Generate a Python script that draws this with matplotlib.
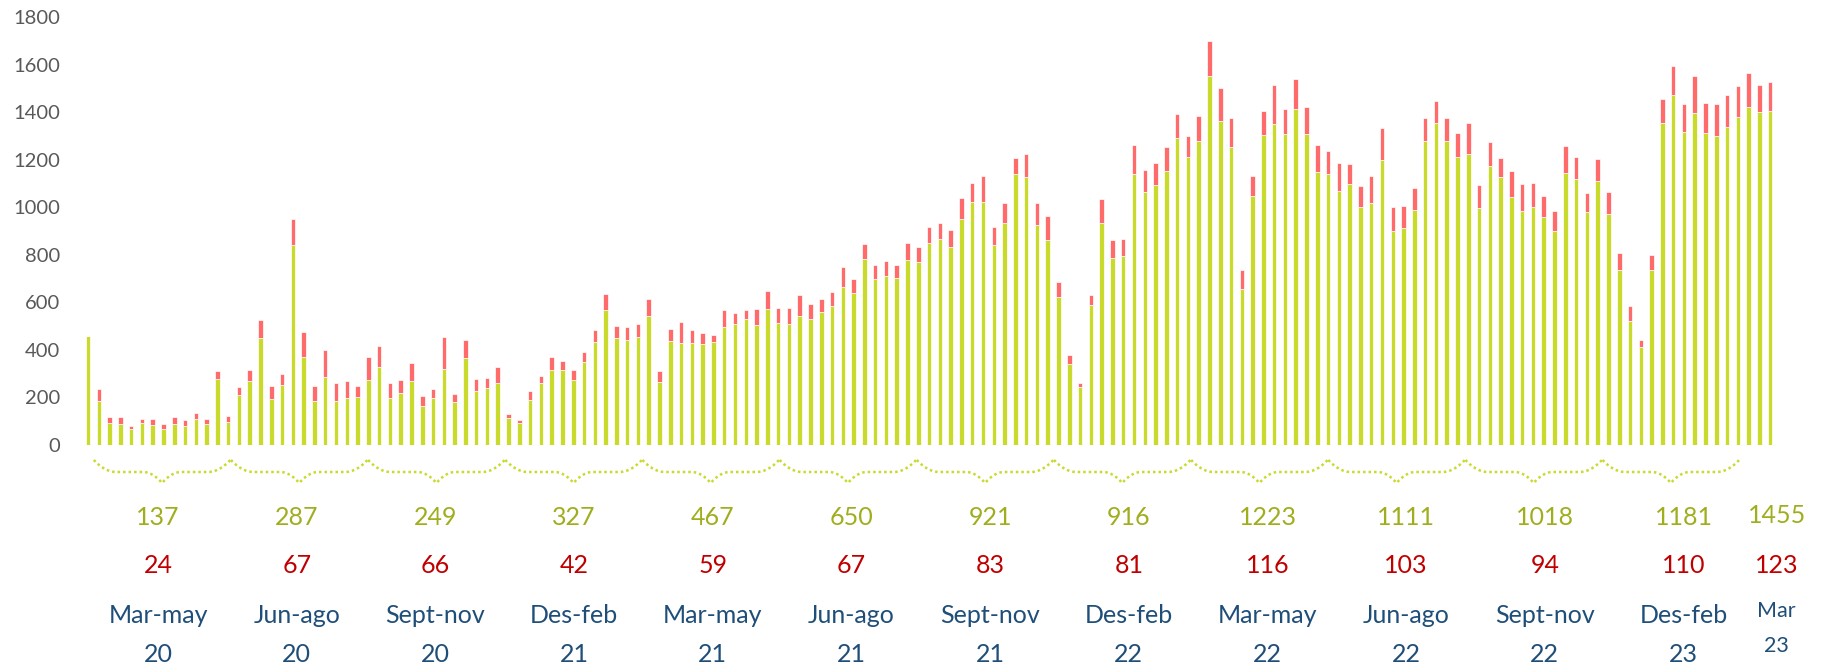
#!/usr/bin/env python3
"""
Weekly counts Mar 2020 - Mar 2023, stacked bars (green + red),
with seasonal averages written under curly braces.

Outputs:
- out.png
"""

import matplotlib.pyplot as plt
import matplotlib.transforms as mtransforms
import numpy as np

# weekly values, green part of each bar
green = [
    460, 185, 94, 88, 67, 93, 84, 67, 90, 81, 109, 90, 278,
    95, 210, 271, 450, 195, 252, 841, 370, 185, 286, 185, 198, 202,
    275, 328, 199, 217, 271, 165, 198, 320, 181, 366, 227, 240, 262,
    114, 93, 191, 261, 315, 315, 273, 348, 435, 568, 449, 442, 454,
    544, 266, 437, 430, 429, 423, 433, 498, 510, 530, 505, 573, 513,
    510, 542, 528, 559, 585, 666, 639, 782, 698, 711, 702, 778, 768,
    849, 866, 833, 950, 1022, 1022, 841, 935, 1140, 1126, 925, 862, 621,
    342, 243, 589, 934, 785, 795, 1140, 1064, 1092, 1152, 1290, 1211, 1278,
    1552, 1361, 1255, 655, 1046, 1302, 1350, 1309, 1413, 1309, 1148, 1141, 1068,
    1096, 999, 1016, 1200, 900, 911, 988, 1278, 1353, 1278, 1211, 1223, 998,
    1175, 1126, 1044, 985, 1002, 959, 898, 1142, 1119, 980, 1110, 970, 737,
    523, 414, 736, 1354, 1472, 1316, 1398, 1312, 1299, 1337, 1379, 1421, 1400,
    1403,
]

# weekly values, red part stacked on top
red = [
    0, 52, 25, 28, 14, 16, 25, 21, 29, 26, 24, 19, 35,
    28, 35, 46, 76, 52, 45, 108, 104, 65, 114, 76, 70, 45,
    94, 90, 60, 56, 72, 42, 37, 133, 35, 76, 51, 42, 67,
    18, 11, 35, 31, 55, 38, 44, 43, 47, 66, 50, 54, 53,
    71, 45, 49, 89, 56, 47, 30, 70, 46, 39, 68, 75, 62,
    67, 87, 66, 54, 58, 83, 59, 63, 59, 64, 55, 73, 63,
    68, 68, 73, 89, 80, 109, 76, 84, 67, 98, 94, 101, 63,
    36, 16, 42, 99, 77, 70, 122, 92, 92, 101, 102, 90, 107,
    147, 139, 119, 82, 85, 104, 165, 103, 126, 111, 114, 95, 116,
    86, 90, 115, 133, 102, 95, 93, 99, 95, 96, 100, 131, 94,
    99, 82, 107, 113, 101, 87, 86, 115, 91, 80, 93, 95, 70,
    60, 28, 62, 100, 123, 117, 154, 125, 135, 133, 132, 143, 114,
    122,
]

seasons = ["Mar-may", "Jun-ago", "Sept-nov", "Des-feb",
           "Mar-may", "Jun-ago", "Sept-nov", "Des-feb",
           "Mar-may", "Jun-ago", "Sept-nov", "Des-feb"]
years = ["20", "20", "20", "21", "21", "21", "21", "22", "22", "22", "22", "23"]
green_avg = [137, 287, 249, 327, 467, 650, 921, 916, 1223, 1111, 1018, 1181]
red_avg = [24, 67, 66, 42, 59, 67, 83, 81, 116, 103, 94, 110]

last_season = "Mar"
last_year = "23"
last_green_avg = 1455
last_red_avg = 123

yticks = list(range(0, 1801, 200))

BAR_GREEN = "#C9DA2C"
BAR_RED = "#FF6B6B"
TXT_GREEN = "#A0AE1E"
TXT_RED = "#C00000"
TXT_BLUE = "#1F4E79"
FONT = ["Lato", "DejaVu Sans"]

W, H = 1825, 663


def fy(px):
    # pixel row from top -> figure fraction
    return 1 - px / H


def brace(ax, tr, center, half):
    t = np.linspace(0, 1, 60)
    y = np.where(t < 0.33, 460 + 12 * (1 - (1 - t / 0.33) ** 2),
                 np.where(t < 0.72, 472, 472 + 11 * ((t - 0.72) / 0.28) ** 2))
    xs = np.concatenate([center - half + t * half, center + half - t[::-1] * half])
    ys = np.concatenate([y, y[::-1]])
    ax.plot(xs, [fy(v) for v in ys], transform=tr, color=BAR_GREEN,
            lw=1.8, linestyle=(0, (1, 1.2)), dash_capstyle="butt",
            clip_on=False)


def plot(out_path):
    n = len(green)
    x = np.arange(n)
    fig = plt.figure(figsize=(W / 100, H / 100), dpi=100)
    left = 82.6 / W
    ax = fig.add_axes([left, fy(445), 1693 / W, 428 / H])

    ax.bar(x, green, width=0.42, color=BAR_GREEN, edgecolor="white", linewidth=0.5)
    ax.bar(x, red, bottom=green, width=0.42, color=BAR_RED, edgecolor="white", linewidth=0.5)

    ax.set_xlim(-0.5, n - 0.5)
    ax.set_ylim(0, 1800)
    ax.set_yticks(yticks)
    ax.set_yticklabels([str(v) for v in yticks], fontfamily=FONT, fontsize=14.5, color="#595959")
    ax.tick_params(axis="y", length=0, pad=16)
    ax.set_xticks([])
    for s in ax.spines.values():
        s.set_visible(False)

    tr = mtransforms.blended_transform_factory(ax.transData, fig.transFigure)

    for k in range(len(seasons)):
        brace(ax, tr, 6.87 + 12.72 * k, 6.33)
        cx = 6.5 + 12.86 * k
        kw = dict(transform=tr, ha="center", va="baseline", fontfamily=FONT, fontsize=18)
        ax.text(cx, fy(525), str(green_avg[k]), color=TXT_GREEN, **kw)
        ax.text(cx, fy(573), str(red_avg[k]), color=TXT_RED, **kw)
        ax.text(cx, fy(623), seasons[k], color=TXT_BLUE, **kw)
        ax.text(cx, fy(662), years[k], color=TXT_BLUE, **kw)

    cx = n - 0.4
    kw = dict(transform=tr, ha="center", va="baseline", fontfamily=FONT)
    ax.text(cx, fy(523), str(last_green_avg), color=TXT_GREEN, fontsize=18, **kw)
    ax.text(cx, fy(573), str(last_red_avg), color=TXT_RED, fontsize=18, **kw)
    ax.text(cx, fy(617), last_season, color=TXT_BLUE, fontsize=15.5, **kw)
    ax.text(cx, fy(652), last_year, color=TXT_BLUE, fontsize=15.5, **kw)

    fig.savefig(out_path, dpi=100)
    plt.close(fig)


def main():
    plot("out.png")


if __name__ == "__main__":
    main()
